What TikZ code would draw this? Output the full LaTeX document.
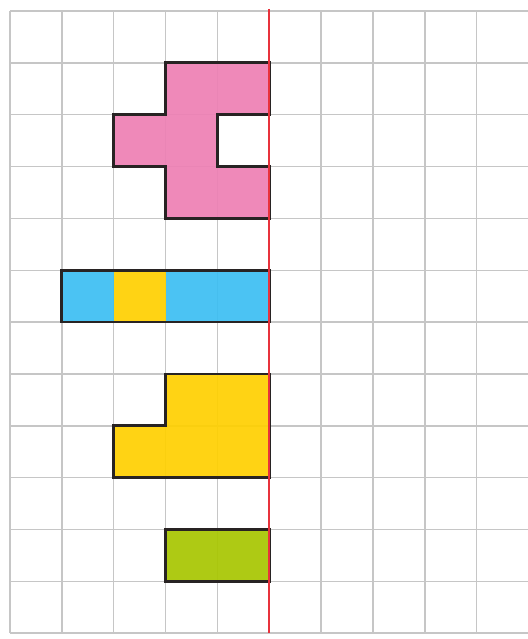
\documentclass[tikz,border=0pt]{standalone}
\definecolor{gridgray}{RGB}{198,198,198}
\definecolor{pinkfill}{RGB}{238,128,180}
\definecolor{bluefill}{RGB}{60,190,242}
\definecolor{yellowfill}{RGB}{255,208,0}
\definecolor{greenfill}{RGB}{168,198,0}
\definecolor{mirrorred}{RGB}{232,50,60}
\definecolor{outline}{RGB}{40,35,35}
\tikzset{
  gridline/.style={draw=gridgray, line width=1.1pt},
  piece/.style={fill opacity=0.92, draw=outline, draw opacity=1, line width=2.1pt, line join=miter},
  mirror/.style={draw=mirrorred, line width=1.7pt}
}
\begin{document}
\begin{tikzpicture}[x=38.8875pt, y=-38.8875pt]
\useasboundingbox (-0.193,-0.212) rectangle (9.99,12.112);
\fill[white] (-0.193,-0.212) rectangle (9.99,12.112);
% grid
\foreach \i in {0,...,9} \draw[gridline] (\i,0) -- (\i,12);
\foreach \j in {0,...,12} \draw[gridline] (0,\j) -- (9.99,\j);
% pink cross shape
\draw[piece, fill=pinkfill] (3,1) -- (5,1) -- (5,2) -- (4,2) -- (4,3) -- (5,3) -- (5,4) -- (3,4) -- (3,3) -- (2,3) -- (2,2) -- (3,2) -- cycle;
% blue/yellow bar
\fill[bluefill, fill opacity=0.92] (1,5) rectangle (2,6);
\fill[yellowfill, fill opacity=0.92] (2,5) rectangle (3,6);
\fill[bluefill, fill opacity=0.92] (3,5) rectangle (5,6);
\draw[piece] (1,5) rectangle (5,6);
% yellow L
\draw[piece, fill=yellowfill] (3,7) -- (5,7) -- (5,9) -- (2,9) -- (2,8) -- (3,8) -- cycle;
% green bar
\draw[piece, fill=greenfill] (3,10) rectangle (5,11);
% mirror line
\draw[mirror] (5,-0.04) -- (5,12);
\end{tikzpicture}
\end{document}
